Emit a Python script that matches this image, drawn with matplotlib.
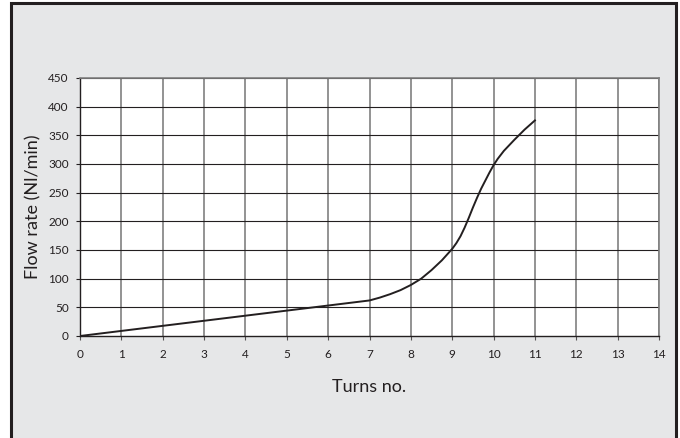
import numpy as np
import matplotlib.pyplot as plt
from matplotlib.patches import Rectangle

plt.rcParams['font.family'] = ['Lato', 'DejaVu Sans']

# valori
turns = [0, 7, 7.25, 7.5, 7.75, 8, 8.25, 8.5, 8.75, 9, 9.1, 9.2, 9.3, 9.4,
         9.5, 9.6, 9.7, 9.8, 9.9, 10, 10.1, 10.25, 10.5, 10.75, 11]
flow = [0, 62, 67, 73, 80, 89, 100, 115, 132, 152, 162, 174, 189, 206,
        224, 241, 257, 271, 285, 298, 309, 323, 342, 360, 376]
x_ticks = list(range(0, 15))
y_ticks = list(range(0, 451, 50))

fig = plt.figure(figsize=(6.8, 4.38), dpi=100)
fig.patch.set_facecolor('white')

# cornice grigia
fig.patches.append(Rectangle((11 / 680, -0.05), 665 / 680, 1.05 - 3 / 438,
                             transform=fig.transFigure, facecolor='#e6e7e8',
                             edgecolor='#231f20', linewidth=2.2, zorder=-10))

ax = fig.add_axes([80 / 680, 1 - 336 / 438, 579 / 680, 258 / 438])
ax.set_facecolor('white')
ax.set_zorder(5)

for x in x_ticks[1:]:
    ax.axvline(x, color='#808080', linewidth=1.2, zorder=1)
for y in y_ticks[1:]:
    ax.axhline(y, color='#231f20', linewidth=0.8, zorder=1)

ax.plot(turns, flow, color='#231f20', linewidth=1.4, zorder=3,
        solid_joinstyle='round')

ax.set_xlim(0, 14)
ax.set_ylim(0, 450)
ax.set_xticks(x_ticks)
ax.set_yticks(y_ticks)
ax.tick_params(axis='both', direction='out', length=3, width=0.8,
               labelsize=8.5, colors='#231f20', pad=5)
ax.tick_params(axis='x', color='#555555', pad=6)

for s in ['left', 'bottom']:
    ax.spines[s].set_color('#231f20')
    ax.spines[s].set_linewidth(1.0)
for s in ['top', 'right']:
    ax.spines[s].set_color('#808080')
    ax.spines[s].set_linewidth(1.2)

ax.set_xlabel('Turns no.', fontsize=13, color='#231f20', labelpad=14)
ax.set_ylabel('Flow rate (Nl/min)', fontsize=13, color='#231f20', labelpad=5)

fig.savefig('out.png', dpi=100)
